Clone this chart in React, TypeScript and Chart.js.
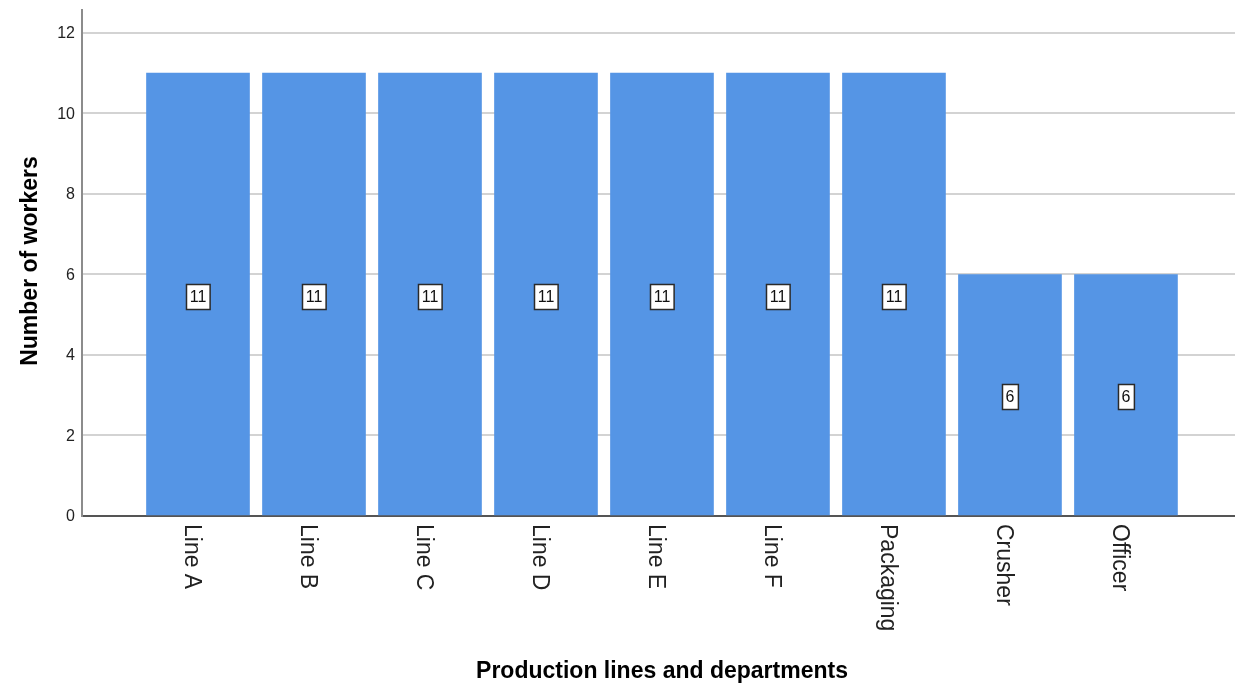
import React, { useEffect, useRef } from "react";
import { Chart, registerables } from "chart.js";

Chart.register(...registerables);

const categories = ["Line A", "Line B", "Line C", "Line D", "Line E", "Line F", "Packaging", "Crusher", "Officer"];
const workers = [11, 11, 11, 11, 11, 11, 11, 6, 6];
const yTicks = [0, 2, 4, 6, 8, 10, 12];
const xTitle = "Production lines and departments";
const yTitle = "Number of workers";

const FONT = "'Liberation Sans', Arial, Helvetica, sans-serif";
const BAR_COLOR = "#5595e5";

const customText = {
  id: "customText",
  afterDatasetsDraw(chart: any) {
    const ctx = chart.ctx;
    const meta = chart.getDatasetMeta(0);
    const xScale = chart.scales.x;
    const yScale = chart.scales.y;
    const area = chart.chartArea;
    ctx.save();
    // y tick labels
    ctx.font = `16px ${FONT}`;
    ctx.fillStyle = "#222";
    ctx.textAlign = "right";
    ctx.textBaseline = "middle";
    yTicks.forEach((v) => {
      ctx.fillText(String(v), area.left - 7, yScale.getPixelForValue(v) + 1);
    });
    // value boxes
    meta.data.forEach((bar: any, i: number) => {
      const txt = String(workers[i]);
      const cy = (bar.y + bar.base) / 2 + 2;
      ctx.font = `16px ${FONT}`;
      const w = ctx.measureText(txt).width + 7;
      const h = 25;
      const bx = Math.round(bar.x - w / 2) + 0.5;
      const by = Math.round(cy - h / 2) + 0.5;
      ctx.fillStyle = "#ffffff";
      ctx.fillRect(bx, by, w, h);
      ctx.strokeStyle = "#2a2a2a";
      ctx.lineWidth = 1.5;
      ctx.strokeRect(bx, by, w, h);
      ctx.fillStyle = "#111";
      ctx.textAlign = "center";
      ctx.textBaseline = "middle";
      ctx.fillText(txt, bar.x, cy + 1);
    });
    // x category labels (rotated clockwise)
    ctx.font = `23px ${FONT}`;
    ctx.fillStyle = "#222";
    categories.forEach((c, i) => {
      const px = xScale.getPixelForValue(i);
      ctx.save();
      ctx.translate(px - 12.5, area.bottom + 8);
      ctx.rotate(Math.PI / 2);
      ctx.textAlign = "left";
      ctx.textBaseline = "alphabetic";
      ctx.fillText(c, 0, 0);
      ctx.restore();
    });
    // x title
    ctx.font = `bold 23px ${FONT}`;
    ctx.fillStyle = "#000";
    ctx.textAlign = "center";
    ctx.textBaseline = "alphabetic";
    ctx.fillText(xTitle, 662, 678);
    // y title
    ctx.save();
    ctx.translate(36.5, 261);
    ctx.rotate(-Math.PI / 2);
    ctx.textAlign = "center";
    ctx.textBaseline = "alphabetic";
    ctx.fillText(yTitle, 0, 0);
    ctx.restore();
    ctx.restore();
  },
};

export default function App() {
  const ref = useRef<HTMLCanvasElement>(null);
  useEffect(() => {
    if (!ref.current) return;
    const chart = new Chart(ref.current, {
      type: "bar",
      data: {
        datasets: [
          {
            data: workers.map((v, i) => ({ x: i, y: v })),
            backgroundColor: BAR_COLOR,
            borderWidth: 0,
            barThickness: 103,
          },
        ],
      },
      options: {
        animation: false,
        responsive: false,
        devicePixelRatio: 1,
        layout: { padding: { top: 10, left: 0, right: 0, bottom: 0 } },
        plugins: { legend: { display: false }, tooltip: { enabled: false } },
        scales: {
          x: {
            type: "linear",
            min: -1,
            max: 8.94,
            offset: false,
            z: 1,
            grid: { display: false },
            ticks: { display: false },
            border: { display: true, color: "#555555", width: 2 },
            afterFit: (s: any) => {
              s.height = 167;
            },
          },
          y: {
            type: "linear",
            min: 0,
            max: 12.57,
            afterBuildTicks: (s: any) => {
              s.ticks = yTicks.map((v) => ({ value: v }));
            },
            ticks: { display: false },
            grid: { color: "#d3d3d3", lineWidth: 2, drawTicks: false },
            border: { display: true, color: "#8c8c8c", width: 2 },
            afterFit: (s: any) => {
              s.width = 82;
            },
          },
        },
      },
      plugins: [customText],
    });
    return () => chart.destroy();
  }, []);
  return (
    <div style={{ position: "fixed", left: 0, top: 0, width: 1235, height: 683, background: "#fff" }}>
      <canvas ref={ref} width={1235} height={683} />
    </div>
  );
}
